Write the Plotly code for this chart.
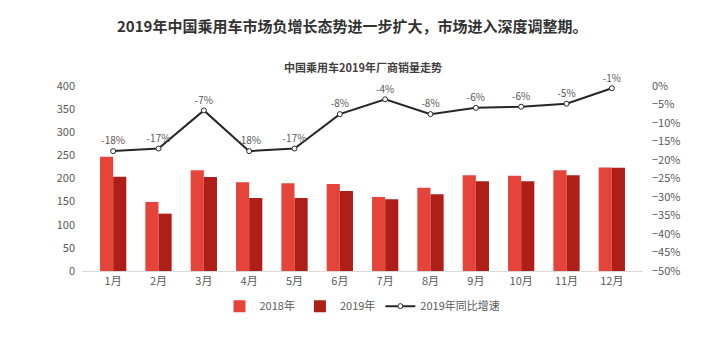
import plotly.graph_objects as go

months = ["1月", "2月", "3月", "4月", "5月", "6月", "7月", "8月", "9月", "10月", "11月", "12月"]
sales_2018 = [247, 149, 218, 192, 190, 188, 160, 180, 207, 206, 218, 224]
sales_2019 = [204, 124, 203, 158, 158, 173, 155, 166, 194, 194, 207, 223]
growth_2019 = [-17.6, -16.9, -6.6, -17.6, -16.9, -7.6, -3.6, -7.6, -5.9, -5.6, -4.8, -0.6]
growth_labels = [f"{v:.0f}%" for v in growth_2019]

FONT = "Noto Sans CJK SC"
GRAY = "#595959"

fig = go.Figure()
fig.add_trace(go.Bar(x=months, y=sales_2018, name="2018年", marker_color="#E5443B",
                     marker_line_width=0))
fig.add_trace(go.Bar(x=months, y=sales_2019, name="2019年", marker_color="#AE1F18",
                     marker_line_width=0))
fig.add_trace(go.Scatter(x=months, y=growth_2019, name="2019年同比增速", yaxis="y2",
                         mode="lines+markers+text", text=growth_labels,
                         textposition="top center", cliponaxis=False,
                         textfont=dict(size=10, color=GRAY, family=FONT),
                         line=dict(color="#262626", width=2),
                         marker=dict(size=5, color="white",
                                     line=dict(color="#262626", width=1))))

fig.update_layout(
    width=720, height=345,
    margin=dict(l=82, r=77, t=86, b=74),
    paper_bgcolor="white", plot_bgcolor="white",
    font=dict(family=FONT, color=GRAY, size=11),
    barmode="group", bargap=0.42, bargroupgap=0,
    showlegend=True,
    legend=dict(orientation="h", x=0.5, xanchor="center", y=-0.19, yanchor="middle",
                font=dict(size=11, color=GRAY), itemwidth=30, traceorder="normal"),
    xaxis=dict(showgrid=False, showline=True, linecolor="#D9D9D9", linewidth=1,
               ticks="", tickfont=dict(size=11, color=GRAY)),
    yaxis=dict(range=[0, 400], dtick=50, showgrid=False, zeroline=False,
               showline=False, tickfont=dict(size=11, color=GRAY), ticklabelstandoff=6),
    yaxis2=dict(range=[-50, 0], dtick=5, overlaying="y", side="right",
                showgrid=False, zeroline=False, ticksuffix="%",
                tickfont=dict(size=11, color=GRAY), ticklabelstandoff=8),
    annotations=[
        dict(text="<b>2019年中国乘用车市场负增长态势进一步扩大，市场进入深度调整期。</b>",
             xref="paper", yref="paper", x=0.481, y=0, xanchor="center", yanchor="middle",
             yshift=271 - 25, showarrow=False, font=dict(size=15, color="#333333", family=FONT)),
        dict(text="<b>中国乘用车2019年厂商销量走势</b>",
             xref="paper", yref="paper", x=0.5, y=0, xanchor="center", yanchor="middle",
             yshift=271 - 67, showarrow=False, font=dict(size=11, color="#404040", family=FONT)),
    ],
)

fig.write_html("out.html")
